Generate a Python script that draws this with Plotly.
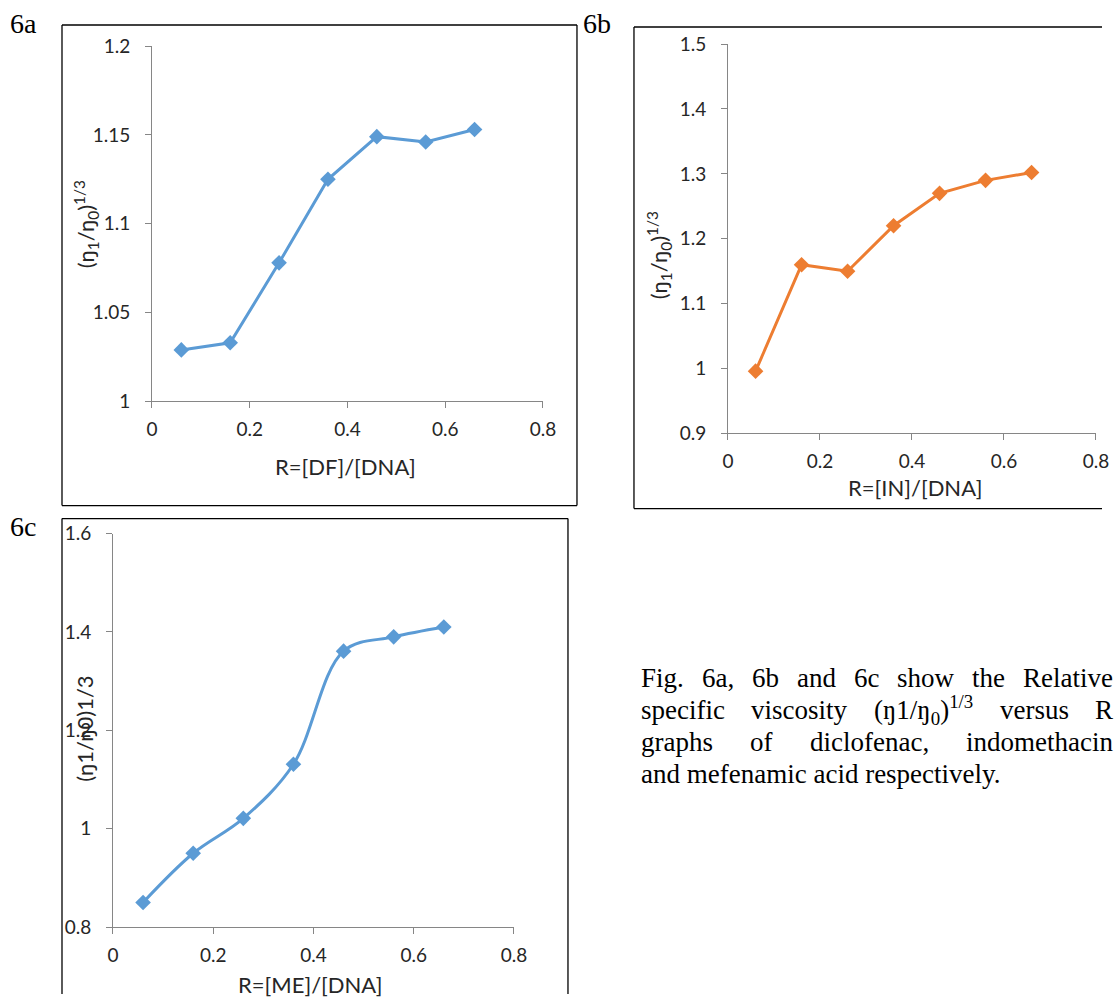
import re
import plotly.graph_objects as go

W, H = 1115, 1005

# ---------------- data ----------------
R_values = [0.06, 0.16, 0.26, 0.36, 0.46, 0.56, 0.66]
df_visc = [1.029, 1.033, 1.078, 1.125, 1.149, 1.146, 1.153]   # 6a diclofenac
in_visc = [0.996, 1.160, 1.150, 1.220, 1.270, 1.290, 1.302]   # 6b indomethacin
me_visc = [0.850, 0.950, 1.021, 1.131, 1.361, 1.390, 1.410]   # 6c mefenamic acid

x_ticks = [0, 0.2, 0.4, 0.6, 0.8]
x_ticklabels = ["0", "0.2", "0.4", "0.6", "0.8"]
a_yticks = [1, 1.05, 1.1, 1.15, 1.2]
a_yticklabels = ["1", "1.05", "1.1", "1.15", "1.2"]
b_yticks = [0.9, 1.0, 1.1, 1.2, 1.3, 1.4, 1.5]
b_yticklabels = ["0.9", "1", "1.1", "1.2", "1.3", "1.4", "1.5"]
c_yticks = [0.8, 1.0, 1.2, 1.4, 1.6]
c_yticklabels = ["0.8", "1", "1.2", "1.4", "1.6"]

caption_lines = [
    (["Fig.", "6a,", "6b", "and", "6c", "show", "the", "Relative"], True),
    (["specific", "viscosity", "(ŋ1/ŋ<sub>0</sub>)<sup>1/3</sup>", "versus", "R"], True),
    (["graphs", "of", "diclofenac,", "indomethacin"], True),
    (["and mefenamic acid respectively."], False),
]

BLUE = "#5B9BD5"
ORANGE = "#ED7D31"
AXIS = "#868686"
TXT = "#262626"
TICKFONT = dict(family="Lato", size=19, color=TXT)
SERIF = "Liberation Serif"
CAP_SIZE = 27

# Times-compatible advance widths (1/1000 em) used to justify caption lines
TIMES_W = {" ": 250, "(": 333, ")": 333, ",": 250, ".": 250, "/": 278,
           "F": 556, "R": 667, "ŋ": 500,
           "a": 444, "b": 500, "c": 444, "d": 500, "e": 444, "f": 333, "g": 500,
           "h": 500, "i": 278, "l": 278, "m": 778, "n": 500, "o": 500, "p": 500,
           "r": 333, "s": 389, "t": 278, "u": 500, "v": 500, "w": 722, "y": 500}


def text_width(s, size):
    total = 0.0
    parts = re.split(r"(<sub>.*?</sub>|<sup>.*?</sup>)", s)
    for p in parts:
        if p.startswith("<sub>") or p.startswith("<sup>"):
            inner = re.sub(r"</?su[bp]>", "", p)
            total += 0.7 * sum(TIMES_W.get(c, 500) for c in inner)
        else:
            total += sum(TIMES_W.get(c, 500) for c in p)
    return total / 1000.0 * size


# The photographed page shows the figure slightly shrunk and offset; map the
# wanted picture positions back to page positions.
AX, BX = 0.983, 6.0
AY, BY = 0.976, 12.0


def fx(px):
    return min(max((px - BX) / AX / W, 0.0), 1.0)


def fy(py):
    return min(max(1 - (py - BY) / AY / H, 0.0), 1.0)


fig = go.Figure()

fig.add_trace(go.Scatter(x=R_values, y=df_visc, mode="lines+markers",
                         line=dict(color=BLUE, width=3),
                         marker=dict(symbol="diamond", size=12, color=BLUE),
                         xaxis="x", yaxis="y", showlegend=False))
fig.add_trace(go.Scatter(x=R_values, y=in_visc, mode="lines+markers",
                         line=dict(color=ORANGE, width=3),
                         marker=dict(symbol="diamond", size=12, color=ORANGE),
                         xaxis="x2", yaxis="y2", showlegend=False))
fig.add_trace(go.Scatter(x=R_values, y=me_visc, mode="lines+markers",
                         line=dict(color=BLUE, width=3, shape="spline", smoothing=1.0),
                         marker=dict(symbol="diamond", size=12, color=BLUE),
                         xaxis="x3", yaxis="y3", showlegend=False))


def xax(dom, anchor):
    return dict(domain=dom, range=[0, 0.8], tickvals=x_ticks, ticktext=x_ticklabels,
                showline=True, linecolor=AXIS, linewidth=1, ticks="outside",
                ticklen=6, tickcolor=AXIS, tickwidth=1, showgrid=False,
                zeroline=False, tickfont=TICKFONT, anchor=anchor,
                ticklabelstandoff=5, fixedrange=True)


def yax(dom, rng, tv, tt, anchor):
    return dict(domain=dom, range=rng, tickvals=tv, ticktext=tt,
                showline=True, linecolor=AXIS, linewidth=1, ticks="outside",
                ticklen=6, tickcolor=AXIS, tickwidth=1, showgrid=False,
                zeroline=False, tickfont=TICKFONT, anchor=anchor,
                ticklabelstandoff=11, fixedrange=True)


annotations = []


def ann(text, x, y, size, family, xanchor="center", yanchor="middle", angle=0):
    annotations.append(dict(text=text, x=fx(x), y=fy(y), xref="paper", yref="paper",
                            showarrow=False, xanchor=xanchor, yanchor=yanchor,
                            textangle=angle, borderpad=0, borderwidth=0,
                            font=dict(family=family, size=size,
                                      color="#000" if family == SERIF else TXT)))


# panel labels
ann("6a", 10, 23, 28, SERIF, xanchor="left")
ann("6b", 583, 23, 28, SERIF, xanchor="left")
ann("6c", 10, 526, 28, SERIF, xanchor="left")

# axis titles
ann("R=[DF]/[DNA]", 346, 466, 22, "Lato")
ann("R=[IN]/[DNA]", 915, 487, 22, "Lato")
ann("R=[ME]/[DNA]", 311, 983, 22, "Lato")
ann("(ŋ<sub>1</sub>/ŋ<sub>0</sub>)<sup>1/3</sup>", 86, 224, 22, "Lato", angle=-90)
ann("(ŋ<sub>1</sub>/ŋ<sub>0</sub>)<sup>1/3</sup>", 659, 255, 22, "Lato", angle=-90)
ann("(ŋ1/ŋ0)1/3", 85, 728, 22, "Lato", angle=-90)

# caption text (justified lines built word by word)
CAP_LEFT, CAP_RIGHT = 641, 1113
for i, (words, justify) in enumerate(caption_lines):
    y = 677 + 32 * i
    if not justify:
        ann(words[0], CAP_LEFT, y, CAP_SIZE, SERIF, xanchor="left")
        continue
    widths = [text_width(w, CAP_SIZE) for w in words]
    gap = (CAP_RIGHT - CAP_LEFT - sum(widths)) / (len(words) - 1)
    x = CAP_LEFT
    for w, wd in zip(words, widths):
        ann(w, x, y, CAP_SIZE, SERIF, xanchor="left")
        x += wd + gap

# panel frames (open sides where the frame leaves the picture)
frame_segments = [
    (62, 25, 577, 25), (62, 505, 577, 505), (62, 25, 62, 505), (577, 25, 577, 505),
    (634, 27, 1130, 27), (634, 508, 1130, 508), (634, 27, 634, 508),
    (62, 518, 568, 518), (62, 518, 62, 1030), (568, 518, 568, 1030),
]
shapes = [dict(type="line", xref="paper", yref="paper",
               x0=fx(a), y0=fy(b), x1=fx(c), y1=fy(d),
               line=dict(color="#000", width=1.3))
          for (a, b, c, d) in frame_segments]

fig.update_layout(
    width=W, height=H, margin=dict(l=0, r=0, t=0, b=0),
    paper_bgcolor="white", plot_bgcolor="white",
    xaxis=xax([fx(152), fx(543)], "y"),
    yaxis=yax([fy(401), fy(46)], [1, 1.2], a_yticks, a_yticklabels, "x"),
    xaxis2=xax([fx(728), fx(1096)], "y2"),
    yaxis2=yax([fy(433), fy(44)], [0.9, 1.5], b_yticks, b_yticklabels, "x2"),
    xaxis3=xax([fx(113), fx(514)], "y3"),
    yaxis3=yax([fy(926), fy(533)], [0.8, 1.6], c_yticks, c_yticklabels, "x3"),
    annotations=annotations, shapes=shapes,
)

fig.write_html("out.html", config={"displayModeBar": False},
               post_script="document.body.style.margin='0';document.body.style.overflow='hidden';")
